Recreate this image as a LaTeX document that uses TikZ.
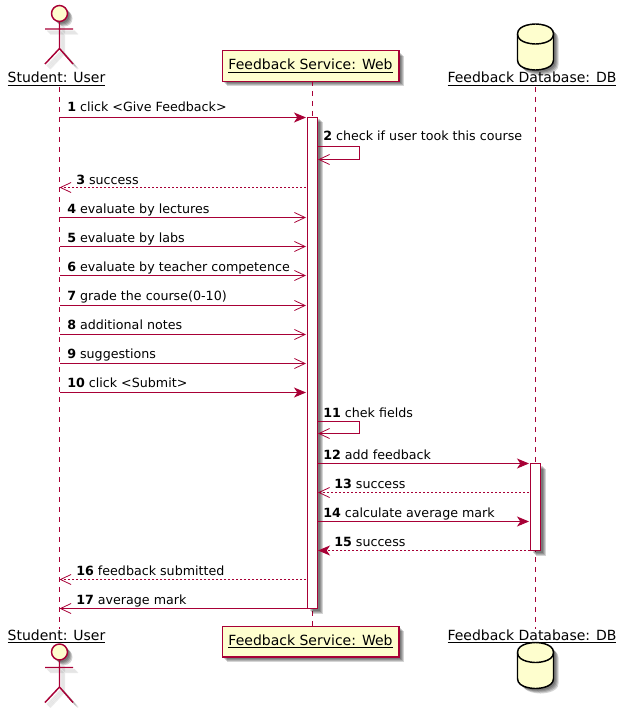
\documentclass[tikz,border=0pt]{standalone}
\usepackage{fontspec}
\setmainfont{DejaVu Sans}
\usetikzlibrary{arrows.meta}
\definecolor{umlred}{HTML}{A80036}
\definecolor{umlfill}{HTML}{FEFECE}
\tikzset{
  lifeline/.style={draw=umlred, line width=0.75pt, dash pattern=on 3.75pt off 3.75pt},
  softshade/.style={fill=black, opacity=0.17},
  barbox/.style={draw=umlred, fill=white, line width=0.75pt},
  msg/.style={draw=umlred, line width=0.75pt, -{Stealth[length=9pt,width=7.5pt,inset=2.5pt,fill=umlred]}},
  msgopen/.style={draw=umlred, line width=0.75pt, -{Straight Barb[length=8pt,width=7.5pt,line width=0.6pt]}},
  msgback/.style={msg, dash pattern=on 1.5pt off 1.5pt},
  msgopenback/.style={msgopen, dash pattern=on 1.5pt off 1.5pt},
  lbl/.style={anchor=base west, inner sep=0pt, yshift=-0.375pt, font=\fontsize{9.5pt}{11pt}\selectfont},
  actorname/.style={anchor=base, inner sep=0pt, font=\fontsize{10.5pt}{12pt}\selectfont},
  webbox/.style={draw=umlred, fill=umlfill, line width=1pt, minimum width=132.5pt, minimum height=23pt, inner sep=0pt, font=\fontsize{10.5pt}{12pt}\selectfont}
}
\newcommand{\softbox}[4]{\foreach \d in {2,3,4,5} \fill[softshade] (#1+\d,#2+\d) rectangle (#3+\d,#4+\d);}
\newcommand{\actorpath}{(59.5,22) -- (59.5,48.5) (45,29) -- (73,29) (45,64) -- (59.5,48.5) -- (73,64)}
\newcommand{\actor}{
  \foreach \d in {2,3,4,5} {
    \draw[black, opacity=0.08, line width=1.1pt, shift={(\d,\d)}] \actorpath;
    \fill[softshade, shift={(\d,\d)}] (59.5,13.5) circle [radius=8];
  }
  \draw[umlred, line width=1.1pt] \actorpath;
  \filldraw[draw=umlred, fill=umlfill, line width=1.1pt] (59.5,13.5) circle [radius=8];
}
\newcommand{\dbpath}{(517.5,34) .. controls (517.5,24) and (535.5,24) .. (535.5,24) .. controls (535.5,24) and (553.5,24) .. (553.5,34) -- (553.5,60) .. controls (553.5,70) and (535.5,70) .. (535.5,70) .. controls (535.5,70) and (517.5,70) .. (517.5,60) -- cycle}
\newcommand{\database}{
  \foreach \d in {2,3,4,5} \fill[softshade, shift={(\d,\d)}] \dbpath;
  \filldraw[draw=black, fill=umlfill, line width=1.1pt] \dbpath;
  \draw[black, line width=1.1pt] (517.5,34) .. controls (517.5,44) and (535.5,44) .. (535.5,44) .. controls (535.5,44) and (553.5,44) .. (553.5,34);
}
\begin{document}
\begin{tikzpicture}[x=0.75pt,y=-0.75pt]
\useasboundingbox (0,0) rectangle (627,713);
% participants
\node[actorname] (stuTop) at (56.5,83) {\underline{Student: User}};
\node[actorname] (dbTop) at (532,83) {\underline{Feedback Database: DB}};
\node[actorname] (stuBot) at (56.5,640) {\underline{Student: User}};
\node[actorname] (dbBot) at (532,640) {\underline{Feedback Database: DB}};
\softbox{222}{51}{399}{81}
\softbox{222}{626}{399}{657}
\node[webbox] (webTop) at (310.5,66) {\underline{Feedback Service: Web}};
\node[webbox] (webBot) at (310.5,641.5) {\underline{Feedback Service: Web}};
\actor
\begin{scope}[shift={(0,638.5)}]
\actor
\end{scope}
\database
\begin{scope}[shift={(0,618.5)}]
\database
\end{scope}
% lifelines
\coordinate (stuA) at (59.5,87);
\coordinate (stuB) at (59.5,629);
\coordinate (webA) at (312.5,81);
\coordinate (webB) at (312.5,626);
\coordinate (dbA) at (535.5,87);
\coordinate (dbB) at (535.5,629);
\draw[lifeline] (stuA) -- (stuB);
\draw[lifeline] (webA) -- (webB);
\draw[lifeline] (dbA) -- (dbB);
% activation bars
\softbox{307.5}{117.5}{317.5}{608.5}
\softbox{530.5}{463.5}{540.5}{550.5}
\filldraw[barbox] (307.5,117.5) rectangle (317.5,608.5);
\filldraw[barbox] (530.5,463.5) rectangle (540.5,550.5);
% messages
\begin{scope}[shift={(0,-0.5)}]
\coordinate (s1) at (59.5,118); \coordinate (w1) at (306,118);
\draw[msg] (s1) -- (w1);
\node[lbl] (t1) at (67,112) {\textbf{1} click <Give Feedback>};
\coordinate (w2a) at (318,147); \coordinate (w2b) at (359.5,147); \coordinate (w2c) at (359.5,160); \coordinate (w2d) at (318,160);
\draw[msgopen] (w2a) -- (w2b) -- (w2c) -- (w2d);
\node[lbl] (t2) at (323,141) {\textbf{2} check if user took this course};
\coordinate (w3) at (306,188); \coordinate (s3) at (59.5,188);
\draw[msgopenback] (w3) -- (s3);
\node[lbl] (t3) at (76,184) {\textbf{3} success};
\coordinate (s4) at (59.5,218); \coordinate (w4) at (306,218);
\draw[msgopen] (s4) -- (w4);
\node[lbl] (t4) at (67,213) {\textbf{4} evaluate by lectures};
\coordinate (s5) at (59.5,247); \coordinate (w5) at (306,247);
\draw[msgopen] (s5) -- (w5);
\node[lbl] (t5) at (67,242) {\textbf{5} evaluate by labs};
\coordinate (s6) at (59.5,276); \coordinate (w6) at (306,276);
\draw[msgopen] (s6) -- (w6);
\node[lbl] (t6) at (67,271) {\textbf{6} evaluate by teacher competence};
\coordinate (s7) at (59.5,306); \coordinate (w7) at (306,306);
\draw[msgopen] (s7) -- (w7);
\node[lbl] (t7) at (67,300) {\textbf{7} grade the course(0-10)};
\coordinate (s8) at (59.5,335); \coordinate (w8) at (306,335);
\draw[msgopen] (s8) -- (w8);
\node[lbl] (t8) at (67,329) {\textbf{8} additional notes};
\coordinate (s9) at (59.5,364); \coordinate (w9) at (306,364);
\draw[msgopen] (s9) -- (w9);
\node[lbl] (t9) at (67,358) {\textbf{9} suggestions};
\coordinate (s10) at (59.5,393); \coordinate (w10) at (306,393);
\draw[msg] (s10) -- (w10);
\node[lbl] (t10) at (67,387) {\textbf{10} click <Submit>};
\coordinate (w11a) at (318,422); \coordinate (w11b) at (359.5,422); \coordinate (w11c) at (359.5,434); \coordinate (w11d) at (318,434);
\draw[msgopen] (w11a) -- (w11b) -- (w11c) -- (w11d);
\node[lbl] (t11) at (323,417) {\textbf{11} chek fields};
\coordinate (w12) at (318,464); \coordinate (d12) at (529,464);
\draw[msg] (w12) -- (d12);
\node[lbl] (t12) at (323,459) {\textbf{12} add feedback};
\coordinate (d13) at (529,493); \coordinate (w13) at (318,493);
\draw[msgopenback] (d13) -- (w13);
\node[lbl] (t13) at (334,488) {\textbf{13} success};
\coordinate (w14) at (318,522); \coordinate (d14) at (529,522);
\draw[msg] (w14) -- (d14);
\node[lbl] (t14) at (323,517) {\textbf{14} calculate average mark};
\coordinate (d15) at (530,551); \coordinate (w15) at (318,551);
\draw[msgback] (d15) -- (w15);
\node[lbl] (t15) at (334,546) {\textbf{15} success};
\coordinate (w16) at (306,580); \coordinate (s16) at (59.5,580);
\draw[msgopenback] (w16) -- (s16);
\node[lbl] (t16) at (76,575) {\textbf{16} feedback submitted};
\coordinate (w17) at (307,609); \coordinate (s17) at (59.5,609);
\draw[msgopen] (w17) -- (s17);
\node[lbl] (t17) at (76,604) {\textbf{17} average mark};
\end{scope}
\end{tikzpicture}
\end{document}
